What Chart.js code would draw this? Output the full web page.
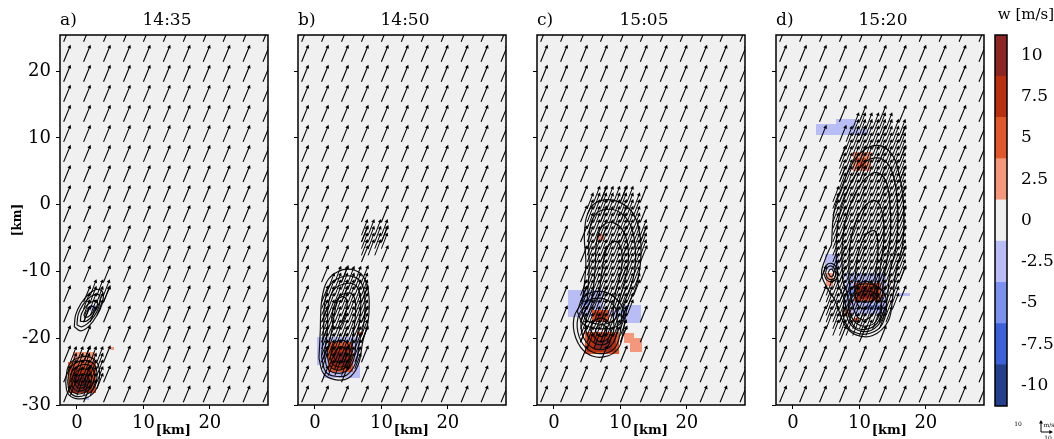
<!DOCTYPE html>
<html>
<head>
<meta charset="utf-8">
<script src="https://cdn.jsdelivr.net/npm/chart.js@4.4.1/dist/chart.umd.min.js"></script>
<style>
body{margin:0;background:#fff;}
#wrap{position:relative;width:1054px;height:439px;overflow:hidden;background:#fff;}
canvas{position:absolute;top:0;}
#cb{left:980px;}
</style>
</head>
<body>
<div id="wrap">
<canvas id="p0" width="275" height="439"></canvas>
<canvas id="p1" width="275" height="439"></canvas>
<canvas id="p2" width="275" height="439"></canvas>
<canvas id="p3" width="275" height="439"></canvas>
<canvas id="cb" width="74" height="439"></canvas>
</div>
<script>
// panel titles and axes
var PANEL_LABELS = ['a)', 'b)', 'c)', 'd)'];
var PANEL_TIMES = ['14:35', '14:50', '15:05', '15:20'];
var X_TICKS = [0, 10, 20];
var Y_TICKS = [-30, -20, -10, 0, 10, 20];

// colour scale for w [m/s]
var W_LEVELS = [-10, -7.5, -5, -2.5, 0, 2.5, 5, 7.5, 10];
var W_COLORS = ['#243f8c', '#3b62d9', '#7a91ef', '#b9bdf6', '#efefef', '#f5977a', '#e0582b', '#b9310f', '#8b2624'];

// wind (u, v) in m/s, background and inside the storms
var BG_WIND = [7, 17];
var STORM_WIND = [6.3, 16.3];
var KM_PER_MS = 0.15;

// coarse quiver grid (arrow tails, km)
var GRID_X = [-2, 1, 4, 7, 10, 13, 16, 19, 22, 25, 28];
var GRID_Y = [-32.6, -29.6, -26.6, -23.6, -20.6, -17.6, -14.6, -11.6, -8.6, -5.6, -2.6, 0.4, 3.4, 6.4, 9.4, 12.4, 15.4, 18.4, 21.4, 24.4];

// w cells: [x0, y0, x1, y1, w]
var CELLS_A = [
  [-0.6, -23.6, 2.7, -22.1, 2.5], [-1, -24.6, -0.3, -23.4, 2.5], [5.1, -21.8, 5.6, -21.3, 2.5],
  [-1.3, -28.2, 2.9, -23.6, 5], [-0.9, -28.2, 2.3, -24.5, 7.5], [-0.4, -28, 1.6, -25.4, 10],
  [1.9, -15.9, 3, -15.1, -2.5], [1.2, -29.3, 1.8, -28.8, -2.5]
];
var CELLS_B = [
  [0.3, -24, 6.6, -19.8, -2.5], [1.2, -26, 6.8, -24, -2.5],
  [2, -25, 5.8, -20.6, 5], [2.4, -24.6, 5.4, -21.2, 7.5], [3, -24, 4.8, -22, 10],
  [6.5, -19.5, 7.2, -19, 5]
];
var CELLS_C = [
  [2.1, -16.8, 7.4, -12.8, -2.5], [10.3, -17.7, 13.1, -15.1, -2.5], [8, -16.8, 10.3, -15.8, -2.5],
  [4.3, -15, 5.5, -14.1, -5],
  [5.8, -17.5, 8.3, -15.8, 5], [6.2, -17.2, 7.6, -16.1, 7.5],
  [4.6, -22.3, 9.8, -19, 5], [5, -22, 9.4, -19.4, 7.5], [6, -21.7, 8.7, -20.2, 10],
  [10.5, -20.7, 12, -19.2, 2.5], [11.4, -22, 13.3, -19.9, 2.5],
  [6.6, -5.5, 7.5, -4.4, 2.5]
];
var CELLS_D = [
  [3.5, 10.4, 9.5, 12, -2.5], [6.5, 12, 9.5, 12.8, -2.5], [9.5, 10.4, 11.3, 11.3, -2.5],
  [9, 5, 11.7, 7.9, 2.5], [9.6, 5.5, 11, 7, 5],
  [4.8, -9.8, 6.9, -7.4, -2.5], [5, -12.2, 6, -10.2, 2.5],
  [8, -16.3, 14, -10.2, -2.5], [8.3, -13.5, 9.8, -12.2, -5], [11, -15.8, 13.5, -15, -5],
  [9.2, -14.5, 13.2, -11.8, 5], [9.6, -14.2, 12.6, -12.2, 7.5], [10, -14, 12, -12.6, 10],
  [7.7, -16.6, 8.8, -15.7, 2.5], [9.2, -17.6, 10, -17, 5],
  [16, -13.7, 17.6, -13.2, -2.5]
];

// contour outlines (km)
var CONTOURS_A = [
  [[-1.7,-26.5],[-1.3,-24.2],[0,-23],[1.8,-22.8],[3.1,-23.8],[3.4,-25.8],[2.8,-27.8],[1.5,-28.9],[-0.3,-29],[-1.4,-28.2]],
  [[-1.4,-26.5],[-1,-24.5],[0.2,-23.5],[1.8,-23.4],[2.8,-24.3],[3,-26],[2.5,-27.6],[1.3,-28.5],[-0.2,-28.7],[-1.1,-28]],
  [[-1.1,-26.5],[-0.7,-24.9],[0.4,-24.1],[1.7,-24],[2.5,-24.8],[2.6,-26.2],[2.1,-27.4],[1,-28.2],[-0.1,-28.3],[-0.9,-27.7]],
  [[-0.8,-26.6],[-0.4,-25.3],[0.5,-24.7],[1.6,-24.7],[2.1,-25.3],[2.2,-26.4],[1.8,-27.3],[0.9,-27.8],[0,-27.9],[-0.6,-27.4]],
  [[-0.4,-26.6],[0,-25.7],[0.7,-25.4],[1.4,-25.5],[1.8,-26.1],[1.6,-26.9],[0.9,-27.4],[0.1,-27.4]],
  [[0.1,-26.6],[0.5,-26.1],[1.1,-26],[1.3,-26.5],[1,-27],[0.4,-27]],
  [[-0.4,-18.3],[-0.2,-16.5],[0.6,-14.8],[1.8,-13.4],[3,-12.7],[3.9,-13.2],[3.8,-14.8],[3,-16.6],[1.8,-18.2],[0.6,-18.9]],
  [[0,-18],[0.2,-16.4],[0.9,-15],[1.9,-13.9],[3,-13.4],[3.5,-13.9],[3.3,-15.3],[2.6,-16.7],[1.6,-17.8],[0.7,-18.3]],
  [[0.5,-17.5],[0.7,-16.3],[1.4,-15.2],[2.3,-14.5],[3,-14.4],[3,-15.3],[2.4,-16.5],[1.5,-17.4]],
  [[1.1,-16.9],[1.4,-16],[2.1,-15.3],[2.6,-15.3],[2.4,-16.1],[1.7,-16.8]]
];
var CONTOURS_B = [
  [[0.6,-23],[0.8,-19],[1,-14.5],[1.8,-11.5],[3.5,-10],[5.5,-9.7],[7.3,-10.8],[8.1,-13.5],[8,-17.5],[7.2,-20.5],[6.5,-24],[5,-26],[3,-26.2],[1.3,-25.3]],
  [[1,-22.8],[1.3,-18.5],[1.5,-14.5],[2.3,-12],[3.8,-10.9],[5.5,-10.7],[6.9,-11.6],[7.5,-13.8],[7.4,-17.5],[6.7,-20.5],[6.2,-23.5],[4.8,-25.5],[3,-25.7],[1.6,-25]],
  [[1.4,-22.5],[1.9,-18.5],[2,-15],[2.8,-12.8],[4,-12],[5.5,-11.8],[6.5,-12.6],[6.9,-14.5],[6.7,-17.6],[6.2,-20.5],[5.8,-23.3],[4.6,-25],[3,-25.2],[1.9,-24.5]],
  [[1.8,-22.3],[2.5,-19],[3,-16],[3.5,-14],[4.5,-13.3],[5.6,-13.4],[6.1,-14.8],[6,-17.5],[5.6,-20.5],[5.4,-23],[4.4,-24.5],[3,-24.7],[2.2,-24]],
  [[2.3,-22.8],[2.8,-21],[3.8,-20.3],[4.9,-20.8],[5.2,-22.5],[4.6,-24],[3.5,-24.3],[2.6,-23.8]],
  [[2.8,-22.8],[3.3,-21.6],[4.1,-21.3],[4.7,-22.2],[4.4,-23.4],[3.4,-23.6]],
  [[2.5,-17],[3,-14.8],[4,-13.8],[4.8,-14.3],[4.6,-16.5],[3.8,-18.2],[2.9,-18.4]]
];
var CONTOURS_C = [
  [[4.3,-14.5],[4.8,-9],[4.6,-4],[5.5,-0.5],[7.5,0.7],[10,0.3],[12,-1.5],[13,-5],[13,-9],[12.3,-12.5],[11,-15.5],[10.5,-18.5],[9.7,-21.5],[7.5,-22.8],[5,-22.3],[3.3,-20],[3,-17]],
  [[5,-14.5],[5.3,-9.5],[5.3,-4.5],[6.2,-1.5],[8,-0.7],[10,-1.2],[11.5,-3],[12.2,-6],[12.2,-9.5],[11.5,-12.5],[10.3,-15.5],[10,-19],[9.2,-21.4],[7.4,-22.3],[5.3,-21.8],[3.8,-19.8],[3.6,-17]],
  [[5.8,-14],[6.2,-9.5],[6.5,-5],[7.5,-3],[9.2,-2.8],[10.6,-4.3],[11.2,-7],[11,-10],[10.2,-13],[9.5,-16],[9.5,-19],[8.7,-21],[7.3,-21.7],[5.6,-21.3],[4.3,-19.5],[4.2,-17]],
  [[6.8,-13.5],[7.3,-9.5],[8,-6.5],[9.3,-5.5],[10.2,-7],[10.1,-10],[9.3,-13],[8.9,-16],[9,-18.8],[8.2,-20.6],[7.1,-21],[5.9,-20.6],[4.9,-19.2],[4.9,-17]],
  [[5.5,-18.8],[6,-17.5],[7.2,-17],[8.3,-17.8],[8.5,-19.3],[7.8,-20.3],[6.6,-20.4]],
  [[6.2,-18.9],[6.6,-18.2],[7.4,-18],[7.9,-18.6],[7.7,-19.5],[6.9,-19.7]],
  [[3.5,-16],[4.5,-13.8],[6.8,-13],[9,-13.8],[10.5,-16],[9.8,-18],[7.2,-18.6],[4.6,-18]],
  [[4.2,-16],[5,-14.5],[6.8,-14],[8.5,-14.6],[9.5,-16.2],[8.8,-17.5],[7,-17.9],[5,-17.4]]
];
var CONTOURS_D = [
  [[5.8,-6],[6.2,-1],[7.5,3],[9.5,7],[12,8.8],[14.5,8],[16,4.5],[16.7,-1],[16.5,-6],[15.5,-10],[15,-14],[14.3,-17.5],[12,-19.6],[9.5,-19.5],[7.8,-18],[6.4,-14.5],[5,-12.2],[4.3,-10.3],[4.8,-8.3]],
  [[6.8,-12],[6.5,-6.5],[7,-1.5],[8.3,2.3],[10.3,5.8],[12.3,7],[14.2,6.2],[15.4,3],[15.8,-2],[15.5,-6.5],[14.6,-10],[14.2,-14],[13.5,-17],[11.8,-18.8],[9.8,-18.8],[8.3,-17.3],[7.8,-14.5]],
  [[7.5,-11.5],[7.4,-6.5],[8,-2],[9.3,1.5],[11,4],[12.6,4.8],[14,3.5],[14.6,0],[14.7,-4],[14.2,-8],[13.6,-11.5],[13.3,-15],[12.5,-17.5],[11,-18.2],[9.6,-17.8],[8.6,-16.3],[8.2,-13.5]],
  [[8.4,-11],[8.6,-6],[9.5,-2.5],[11,0],[12.6,0.5],[13.5,-1.5],[13.7,-5],[13.2,-9],[12.8,-12.5],[12.3,-15.8],[11,-17.2],[9.7,-16.8],[8.9,-14.5]],
  [[9.3,-11.8],[9.8,-7.5],[11,-4.5],[12.4,-4],[12.8,-7],[12.4,-10.5],[12.2,-13.5],[11.2,-15.5],[10,-15.3],[9.4,-13.8]],
  [[9.3,-13.2],[10,-11.8],[11.5,-11.6],[12.6,-12.6],[12.3,-14.2],[10.8,-14.6],[9.7,-14.3]],
  [[7.5,-16],[8,-13.5],[10,-12],[12.5,-12.2],[14,-14],[13.5,-17.8],[11.5,-19.3],[9,-19],[7.8,-17.5]],
  [[8.2,-16],[8.8,-14],[10.3,-13],[12.3,-13.2],[13.3,-14.8],[12.9,-17.4],[11.3,-18.6],[9.3,-18.3]],
  [[4.6,-10.2],[5,-9.1],[5.8,-8.8],[6.6,-9.5],[6.7,-10.8],[6,-11.5],[5.1,-11.3]],
  [[4.9,-10.2],[5.2,-9.4],[5.8,-9.2],[6.3,-9.7],[6.4,-10.7],[5.9,-11.2],[5.2,-11]],
  [[5.3,-10.2],[5.6,-9.7],[6,-9.8],[6.1,-10.5],[5.7,-10.8]]
];

// areas where the fine (1 km) wind vectors are shown
var DENSE_A = [
  [[-1.6,-28.6],[-1.6,-24],[0.4,-22.6],[3.4,-23],[3.4,-27.3],[1.5,-29.2]],
  [[0.2,-18],[0.6,-15.5],[1.8,-13.5],[3.2,-12.6],[4.8,-12.8],[4.2,-15],[3,-17],[1.5,-18.5]]
];
var DENSE_B = [
  [[1,-25.5],[0.8,-17],[1.3,-12.8],[3,-11.5],[6,-11.2],[7.8,-12.5],[8,-15],[7.3,-20],[6.3,-25],[3.5,-26.2]],
  [[6,-8.3],[6.3,-5],[7.3,-4],[9.5,-3.8],[10.8,-4.5],[10.5,-6.5],[9.5,-8.3]]
];
var DENSE_C = [
  [[3.5,-20.5],[3.5,-15],[4.7,-10],[4.5,-3],[5.2,0.5],[7,1.3],[10.5,1.3],[12.5,-0.5],[13.2,-6],[12.5,-13],[11,-17],[10,-21],[7.5,-22.5],[5,-22]]
];
var DENSE_D = [
  [[8.5,12],[13,12.2],[16,10.5],[16.8,5],[17,-2],[16.5,-9],[15.5,-15],[14,-18.5],[11,-20],[8,-19.8],[4.5,-19.5],[4.5,-14.5],[5.8,-12],[5.5,-5],[6,1],[7,6.5]]
];

var PANEL_CELLS = [CELLS_A, CELLS_B, CELLS_C, CELLS_D];
var PANEL_CONTOURS = [CONTOURS_A, CONTOURS_B, CONTOURS_C, CONTOURS_D];
var PANEL_DENSE = [DENSE_A, DENSE_B, DENSE_C, DENSE_D];
var PANEL_LEFT = [60, 298, 537, 776];

Chart.defaults.font.family = '"DejaVu Serif", serif';
Chart.defaults.color = '#000';

function wColor(w){
  var i = Math.round(w / 2.5) + 4;
  return W_COLORS[Math.max(0, Math.min(8, i))];
}

function inside(poly, x, y){
  var c = false;
  for (var i = 0, j = poly.length - 1; i < poly.length; j = i++){
    var xi = poly[i][0], yi = poly[i][1], xj = poly[j][0], yj = poly[j][1];
    if (((yi > y) != (yj > y)) && (x < (xj - xi) * (y - yi) / (yj - yi) + xi)) c = !c;
  }
  return c;
}

function arrow(ctx, x0, y0, x1, y1){
  var a = Math.atan2(y1 - y0, x1 - x0);
  var h = 3.6, hw = 2;
  var ca = Math.cos(a), sa = Math.sin(a);
  ctx.beginPath();
  ctx.moveTo(x0, y0);
  ctx.lineTo(x1 - h * 0.7 * ca, y1 - h * 0.7 * sa);
  ctx.stroke();
  ctx.beginPath();
  ctx.moveTo(x1, y1);
  ctx.lineTo(x1 - h * ca + hw * sa, y1 - h * sa - hw * ca);
  ctx.lineTo(x1 - h * ca - hw * sa, y1 - h * sa + hw * ca);
  ctx.closePath();
  ctx.fill();
}

var fieldPlugin = {
  id: 'field',
  beforeDraw: function(chart){
    var ca = chart.chartArea, ctx = chart.ctx;
    ctx.save();
    ctx.fillStyle = '#f0f0f0';
    ctx.fillRect(ca.left, ca.top, ca.right - ca.left, ca.bottom - ca.top);
    ctx.restore();
  },
  beforeDatasetsDraw: function(chart){
    var ca = chart.chartArea, ctx = chart.ctx;
    var xs = chart.scales.x, ys = chart.scales.y;
    var cells = PANEL_CELLS[chart.options.plugins.field.idx];
    ctx.save();
    ctx.beginPath(); ctx.rect(ca.left, ca.top, ca.right - ca.left, ca.bottom - ca.top); ctx.clip();
    cells.forEach(function(c){
      var x0 = Math.round(xs.getPixelForValue(c[0])), x1 = Math.round(xs.getPixelForValue(c[2]));
      var y0 = Math.round(ys.getPixelForValue(c[3])), y1 = Math.round(ys.getPixelForValue(c[1]));
      ctx.fillStyle = wColor(c[4]);
      ctx.fillRect(x0, y0, x1 - x0, y1 - y0);
    });
    ctx.restore();
  },
  afterDatasetsDraw: function(chart){
    var ca = chart.chartArea, ctx = chart.ctx;
    var xs = chart.scales.x, ys = chart.scales.y;
    var idx = chart.options.plugins.field.idx;
    var dense = PANEL_DENSE[idx];
    ctx.save();
    ctx.beginPath(); ctx.rect(ca.left, ca.top, ca.right - ca.left, ca.bottom - ca.top); ctx.clip();
    ctx.strokeStyle = '#000'; ctx.fillStyle = '#000'; ctx.lineWidth = 1.1;
    GRID_X.forEach(function(gx){
      GRID_Y.forEach(function(gy){
        arrow(ctx, xs.getPixelForValue(gx), ys.getPixelForValue(gy),
          xs.getPixelForValue(gx + BG_WIND[0] * KM_PER_MS), ys.getPixelForValue(gy + BG_WIND[1] * KM_PER_MS));
      });
    });
    ctx.lineWidth = 1;
    for (var i = 0; i <= 30; i++){
      for (var j = 0; j <= 58; j++){
        var gx = GRID_X[0] + i, gy = GRID_Y[0] + j;
        var hit = dense.some(function(p){ return inside(p, gx, gy); });
        if (!hit) continue;
        arrow(ctx, xs.getPixelForValue(gx), ys.getPixelForValue(gy),
          xs.getPixelForValue(gx + STORM_WIND[0] * KM_PER_MS), ys.getPixelForValue(gy + STORM_WIND[1] * KM_PER_MS));
      }
    }
    ctx.restore();
  },
  afterDraw: function(chart){
    var ca = chart.chartArea, ctx = chart.ctx;
    var xs = chart.scales.x;
    var idx = chart.options.plugins.field.idx;
    ctx.save();
    ctx.strokeStyle = '#000'; ctx.lineWidth = 1.5;
    ctx.strokeRect(ca.left, ca.top, ca.right - ca.left, ca.bottom - ca.top);
    ctx.fillStyle = '#000';
    ctx.font = '17px "DejaVu Serif"';
    ctx.textBaseline = 'middle';
    ctx.textAlign = 'left';
    ctx.fillText(PANEL_LABELS[idx], ca.left, 21);
    ctx.textAlign = 'center';
    ctx.fillText(PANEL_TIMES[idx], (ca.left + ca.right) / 2 + 3, 21);
    ctx.font = 'bold 13px "DejaVu Serif"';
    ctx.fillText('[km]', xs.getPixelForValue(14.5), 431);
    if (idx === 0){
      ctx.translate(13, 220);
      ctx.rotate(-Math.PI / 2);
      ctx.font = 'bold 12px "DejaVu Serif"';
      ctx.fillText('[km]', 0, 0);
    }
    ctx.restore();
  }
};

PANEL_LABELS.forEach(function(lbl, idx){
  var cv = document.getElementById('p' + idx);
  cv.style.left = (PANEL_LEFT[idx] - 55) + 'px';
  var sets = PANEL_CONTOURS[idx].map(function(c){
    return {
      data: c.concat([c[0]]).map(function(p){ return {x: p[0], y: p[1]}; }),
      showLine: true, borderColor: '#111', borderWidth: 1.2, pointRadius: 0, tension: 0.4, fill: false
    };
  });
  new Chart(cv.getContext('2d'), {
    type: 'scatter',
    data: {datasets: sets},
    plugins: [fieldPlugin],
    options: {
      responsive: false, animation: false, devicePixelRatio: 1,
      layout: {padding: {top: 35, right: 12, left: 0, bottom: 0}},
      plugins: {legend: {display: false}, tooltip: {enabled: false}, field: {idx: idx}},
      scales: {
        x: {
          type: 'linear', min: -2.55, max: 28.75,
          afterBuildTicks: function(s){ s.ticks = X_TICKS.map(function(v){ return {value: v}; }); },
          afterFit: function(s){ s.height = 34; },
          ticks: {font: {size: 18}, padding: 4, maxRotation: 0},
          grid: {drawOnChartArea: false, color: '#000', tickLength: 4},
          border: {display: false}
        },
        y: {
          type: 'linear', min: -30, max: 25.4,
          afterBuildTicks: function(s){ s.ticks = Y_TICKS.map(function(v){ return {value: v}; }); },
          afterFit: function(s){ s.width = 55; },
          ticks: {display: idx === 0, font: {size: 18}, padding: 5},
          grid: {drawOnChartArea: false, color: '#000', tickLength: 4},
          border: {display: false}
        }
      }
    }
  });
});

// colour bar
var cbPlugin = {
  id: 'cbar',
  afterDraw: function(chart){
    var ca = chart.chartArea, ctx = chart.ctx;
    ctx.save();
    ctx.strokeStyle = '#000'; ctx.lineWidth = 1.5;
    ctx.strokeRect(ca.left, ca.top, ca.right - ca.left, ca.bottom - ca.top);
    ctx.fillStyle = '#000';
    ctx.font = '15px "DejaVu Serif"';
    ctx.textAlign = 'center'; ctx.textBaseline = 'middle';
    ctx.fillText('w [m/s]', 46, 15);
    // reference arrow key
    ctx.font = '6px "DejaVu Serif"';
    ctx.fillText('10', 38, 424);
    ctx.fillText('m/s', 69, 425);
    ctx.fillText('10', 68, 438);
    ctx.lineWidth = 1;
    arrow(ctx, 61, 432, 61, 420);
    arrow(ctx, 61, 432, 73, 432);
    ctx.restore();
  }
};

new Chart(document.getElementById('cb').getContext('2d'), {
  type: 'bar',
  data: {
    labels: ['w'],
    datasets: W_LEVELS.map(function(w, i){
      return {data: [[w - 1.25, w + 1.25]], backgroundColor: W_COLORS[i], borderWidth: 0,
        grouped: false, barPercentage: 1, categoryPercentage: 1};
    })
  },
  plugins: [cbPlugin],
  options: {
    responsive: false, animation: false, devicePixelRatio: 1,
    layout: {padding: {top: 35, left: 15, right: 0, bottom: 33}},
    plugins: {legend: {display: false}, tooltip: {enabled: false}},
    scales: {
      x: {display: false},
      y: {
        position: 'right', min: -11.25, max: 11.25,
        afterBuildTicks: function(s){ s.ticks = W_LEVELS.map(function(v){ return {value: v}; }); },
        afterFit: function(s){ s.width = 47; },
        ticks: {font: {size: 17}, padding: 14},
        grid: {drawOnChartArea: false, drawTicks: false},
        border: {display: false}
      }
    }
  }
});
</script>
</body>
</html>
